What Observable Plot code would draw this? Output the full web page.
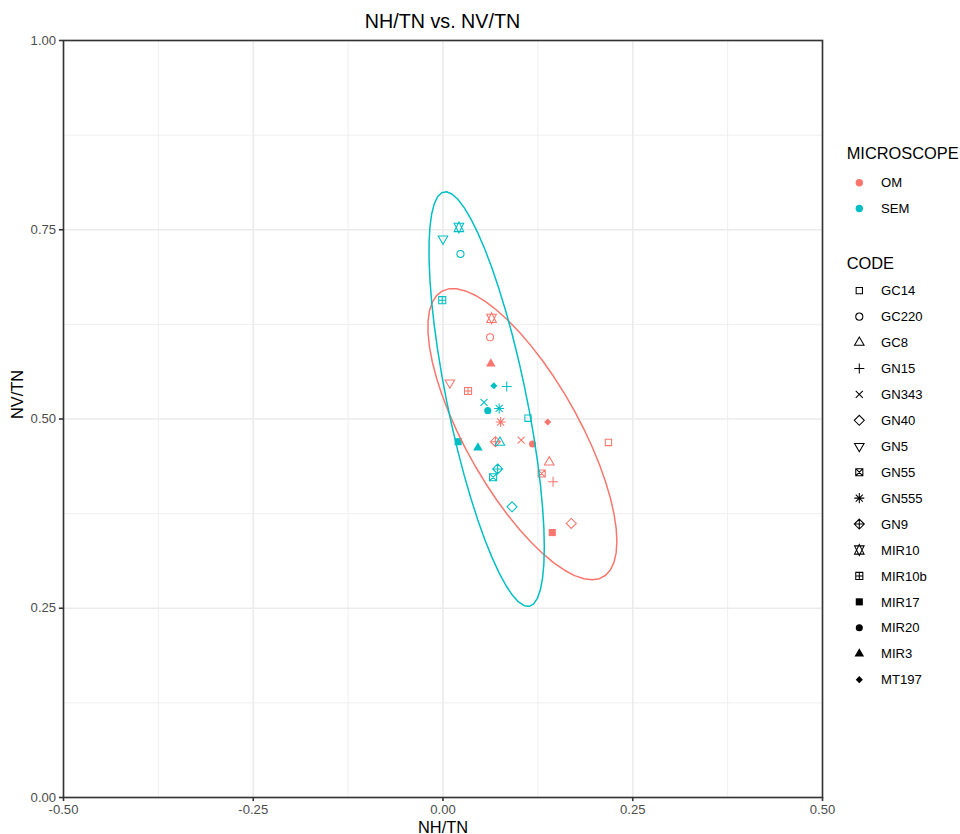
<!DOCTYPE html>
<html><head><meta charset="utf-8">
<script src="https://cdn.jsdelivr.net/npm/d3@7"></script>
<script src="https://cdn.jsdelivr.net/npm/@observablehq/plot@0.6"></script>
<style>
body{margin:0;background:#fff;font-family:"Liberation Sans",Arial,sans-serif;}
#wrap{position:relative;width:960px;height:834px;overflow:hidden;background:#fff;}
#title{height:34px;box-sizing:border-box;padding-top:11.6px;padding-left:63px;width:822px;text-align:center;font-size:19.7px;line-height:19.7px;color:#000;white-space:nowrap;}
#legend{position:absolute;left:822px;top:0;}
</style></head><body>
<div id="wrap"><div id="title">NH/TN vs. NV/TN</div><div id="chart"></div><svg id="legend" width="138" height="834"></svg></div>
<script>
// ---- data ----
const microscopes = ["OM", "SEM"];
const colors = ["#F8766D", "#00BFC4"];
const codes = ["GC14","GC220","GC8","GN15","GN343","GN40","GN5","GN55","GN555","GN9","MIR10","MIR10b","MIR17","MIR20","MIR3","MT197"];
const shapeIds = [0,1,2,3,4,5,6,7,8,9,11,12,15,16,17,18];
const omX  = [0.218, 0.062, 0.140, 0.145, 0.103, 0.169, 0.009, 0.130, 0.076, 0.069, 0.064, 0.033, 0.144, 0.118, 0.063, 0.138];
const omY  = [0.469, 0.608, 0.443, 0.417, 0.472, 0.362, 0.548, 0.428, 0.496, 0.470, 0.633, 0.537, 0.350, 0.467, 0.573, 0.496];
const semX = [0.112, 0.023, 0.075, 0.084, 0.054, 0.091, 0.000, 0.066, 0.074, 0.072, 0.021, -0.001, 0.020, 0.059, 0.046, 0.067];
const semY = [0.501, 0.718, 0.469, 0.543, 0.522, 0.384, 0.738, 0.423, 0.514, 0.434, 0.753, 0.657, 0.470, 0.511, 0.462, 0.544];
const xTicks = [-0.5, -0.25, 0, 0.25, 0.5];
const yTicks = [0, 0.25, 0.5, 0.75, 1];
const xMinor = [-0.375, -0.125, 0.125, 0.375];
const yMinor = [0.125, 0.375, 0.625, 0.875];
const level = 0.95;

// ---- R-style point shapes ----
const TRC0 = Math.sqrt(4 * Math.PI / (3 * Math.sqrt(3)));
const TRC1 = TRC0 * Math.sqrt(3) / 2, TRC2 = TRC0 / 2, SQRC = 0.88622692545275801364;
const rect = (c, h) => { c.moveTo(-h, -h); c.lineTo(h, -h); c.lineTo(h, h); c.lineTo(-h, h); c.closePath(); };
const seg = (c, x0, y0, x1, y1) => { c.moveTo(x0, y0); c.lineTo(x1, y1); };
const circ = (c, r) => { c.moveTo(r, 0); c.arc(0, 0, r, 0, 2 * Math.PI); };
const tri = (c, R, up) => { const r = TRC0 * R, xc = TRC1 * R, yc = TRC2 * R, s = up ? 1 : -1; c.moveTo(0, -s * r); c.lineTo(xc, s * yc); c.lineTo(-xc, s * yc); c.closePath(); };
const diam = (c, x) => { c.moveTo(0, -x); c.lineTo(x, 0); c.lineTo(0, x); c.lineTo(-x, 0); c.closePath(); };
const pchDraw = {
  0: (c, R) => rect(c, R * SQRC),
  1: (c, R) => circ(c, R),
  2: (c, R) => tri(c, R, true),
  3: (c, R) => { const x = Math.SQRT2 * R; seg(c, -x, 0, x, 0); seg(c, 0, -x, 0, x); },
  4: (c, R) => { seg(c, -R, -R, R, R); seg(c, -R, R, R, -R); },
  5: (c, R) => diam(c, Math.SQRT2 * R),
  6: (c, R) => tri(c, R, false),
  7: (c, R) => { rect(c, R); seg(c, -R, -R, R, R); seg(c, -R, R, R, -R); },
  8: (c, R) => { seg(c, -R, -R, R, R); seg(c, -R, R, R, -R); const x = Math.SQRT2 * R; seg(c, -x, 0, x, 0); seg(c, 0, -x, 0, x); },
  9: (c, R) => { const x = Math.SQRT2 * R; diam(c, x); seg(c, -x, 0, x, 0); seg(c, 0, -x, 0, x); },
  11: (c, R) => { const r = TRC0 * R, yc = 0.5 * (TRC2 * R + r), xc = TRC1 * R;
    c.moveTo(0, r); c.lineTo(xc, -yc); c.lineTo(-xc, -yc); c.closePath();
    c.moveTo(0, -r); c.lineTo(xc, yc); c.lineTo(-xc, yc); c.closePath(); },
  12: (c, R) => { rect(c, R); seg(c, -R, 0, R, 0); seg(c, 0, -R, 0, R); },
  15: (c, R) => rect(c, R),
  16: (c, R) => circ(c, R),
  17: (c, R) => tri(c, R, true),
  18: (c, R) => diam(c, R)
};
const filledPch = new Set([15, 16, 17, 18]);
const symbolOf = id => ({ draw(ctx, size) { pchDraw[id](ctx, Math.sqrt(size / Math.PI)); } });
const symbols = codes.map((c, i) => symbolOf(shapeIds[i]));
const PR = 3.55;

// ---- rows ----
const rows = [];
codes.forEach((code, i) => rows.push({ code, m: "OM", x: omX[i], y: omY[i], filled: filledPch.has(shapeIds[i]) }));
codes.forEach((code, i) => rows.push({ code, m: "SEM", x: semX[i], y: semY[i], filled: filledPch.has(shapeIds[i]) }));

// ---- stat_ellipse (type "t", MASS::cov.trob) ----
function covTrob(xs, ys, nu = 5, maxit = 25, tol = 0.01) {
  const n = xs.length, p = 2;
  let w = new Array(n).fill(1);
  let lx = d3.mean(xs), ly = d3.mean(ys);
  let X;
  for (let it = 0; it < maxit; it++) {
    const w0 = w.slice();
    X = xs.map((x, i) => [x - lx, ys[i] - ly]);
    const sw = d3.sum(w);
    let a = 0, b = 0, c = 0;
    for (let i = 0; i < n; i++) { const f = w[i] / sw; a += f * X[i][0] * X[i][0]; b += f * X[i][0] * X[i][1]; c += f * X[i][1] * X[i][1]; }
    const det = a * c - b * b;
    const Q = X.map(([u, v]) => (c * u * u - 2 * b * u * v + a * v * v) / det);
    w = Q.map(q => (nu + p) / (nu + q));
    const sw2 = d3.sum(w);
    lx = d3.sum(xs, (x, i) => w[i] * x) / sw2;
    ly = d3.sum(ys, (y, i) => w[i] * y) / sw2;
    if (w.every((wi, i) => Math.abs(wi - w0[i]) < tol)) break;
  }
  let a = 0, b = 0, c = 0;
  for (let i = 0; i < n; i++) { a += w[i] * X[i][0] * X[i][0]; b += w[i] * X[i][0] * X[i][1]; c += w[i] * X[i][1] * X[i][1]; }
  return { center: [lx, ly], cov: [a / n, b / n, c / n] };
}
function ellipse(xs, ys, m, segments = 51) {
  const { center, cov } = covTrob(xs, ys);
  const dfd = xs.length - 1;
  const qf = (dfd / 2) * (Math.pow(1 - level, -2 / dfd) - 1); // qf(level, 2, dfd)
  const radius = Math.sqrt(2 * qf);
  const R11 = Math.sqrt(cov[0]), R12 = cov[1] / R11, R22 = Math.sqrt(cov[2] - R12 * R12);
  return d3.range(segments + 1).map(k => {
    const t = k * 2 * Math.PI / segments, ct = Math.cos(t), st = Math.sin(t);
    return { m, x: center[0] + radius * ct * R11, y: center[1] + radius * (ct * R12 + st * R22) };
  });
}
const ellRows = [...ellipse(omX, omY, "OM"), ...ellipse(semX, semY, "SEM")];

const fmt = d => d.toFixed(2);
const FONT = '"Liberation Sans", Arial, sans-serif';
const chart = Plot.plot({
  width: 960, height: 800,
  marginTop: 6, marginBottom: 37, marginLeft: 63, marginRight: 138,
  style: { fontFamily: FONT, fontSize: "13.1px", background: "white", overflow: "visible" },
  x: { domain: [-0.5, 0.5] },
  y: { domain: [0, 1] },
  color: { domain: microscopes, range: colors },
  symbol: { domain: codes, range: symbols },
  marks: [
    Plot.ruleX(xMinor, { stroke: "#EBEBEB", strokeWidth: 0.8 }),
    Plot.ruleY(yMinor, { stroke: "#EBEBEB", strokeWidth: 0.8 }),
    Plot.ruleX(xTicks, { stroke: "#EBEBEB", strokeWidth: 1.6 }),
    Plot.ruleY(yTicks, { stroke: "#EBEBEB", strokeWidth: 1.6 }),
    Plot.dot(rows.filter(d => !d.filled), { x: "x", y: "y", symbol: "code", stroke: "m", fill: "none", r: PR, strokeWidth: 1.05 }),
    Plot.dot(rows.filter(d => d.filled), { x: "x", y: "y", symbol: "code", fill: "m", stroke: "none", r: PR }),
    Plot.line(ellRows, { x: "x", y: "y", z: "m", stroke: "m", strokeWidth: 1.5 }),
    Plot.frame({ stroke: "#333333", strokeWidth: 1.6 }),
    Plot.axisX({ ticks: xTicks, tickFormat: fmt, tickSize: 4.1, tickPadding: 3.3, stroke: "#333333", strokeWidth: 1.6, fill: "#4D4D4D", label: null }),
    Plot.axisY({ ticks: yTicks, tickFormat: fmt, tickSize: 4.1, tickPadding: 3.3, stroke: "#333333", strokeWidth: 1.6, fill: "#4D4D4D", label: null }),
    Plot.text(["NH/TN"], { text: d => d, frameAnchor: "bottom", lineAnchor: "bottom", dy: 35, fontSize: 16.4, fill: "black" }),
    Plot.text(["NV/TN"], { text: d => d, frameAnchor: "left", lineAnchor: "bottom", rotate: -90, dx: -40.5, fontSize: 16.4, fill: "black" })
  ]
});
document.getElementById("chart").appendChild(chart);

// ---- legend ----
const L0 = 822;
const lg = d3.select("#legend").style("font-family", FONT);
lg.append("text").attr("x", 846.7 - L0).attr("y", 159.3).attr("font-size", 16.4).attr("fill", "#000").text("MICROSCOPE");
microscopes.forEach((m, i) => {
  const cy = 182.7 + 25.8 * i;
  lg.append("circle").attr("cx", 859.3 - L0).attr("cy", cy).attr("r", 3.7).attr("fill", colors[i]);
  lg.append("text").attr("x", 881 - L0).attr("y", cy + 4.7).attr("font-size", 13.1).attr("fill", "#000").text(m);
});
lg.append("text").attr("x", 846.7 - L0).attr("y", 268.6).attr("font-size", 16.4).attr("fill", "#000").text("CODE");
codes.forEach((code, i) => {
  const cy = 290.7 + 25.93 * i;
  const filled = filledPch.has(shapeIds[i]);
  lg.append("path").attr("transform", `translate(${859.3 - L0},${cy})`)
    .attr("d", d3.symbol(symbols[i], Math.PI * PR * PR)())
    .attr("fill", filled ? "#000" : "none").attr("stroke", filled ? "none" : "#000").attr("stroke-width", 1.05);
  lg.append("text").attr("x", 881 - L0).attr("y", cy + 4.7).attr("font-size", 13.1).attr("fill", "#000").text(code);
});
</script>
</body></html>
